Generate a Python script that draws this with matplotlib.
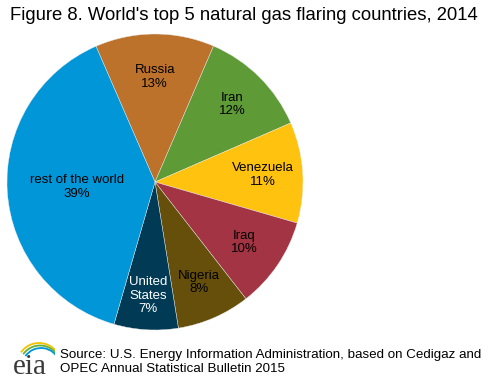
import numpy as np
import matplotlib.pyplot as plt
from matplotlib.patches import Arc

# shares of flared gas, 2014 (percent)
countries = ['Russia', 'Iran', 'Venezuela', 'Iraq', 'Nigeria', 'United\nStates', 'rest of the world']
shares = [13, 12, 11, 10, 8, 7, 39]
colors = ['#BD722C', '#5E9A35', '#FFC20E', '#A33443', '#664F0A', '#003A54', '#0096D7']
text_colors = ['black', 'black', 'black', 'black', 'black', 'white', 'black']
label_radius = [0.71, 0.74, 0.73, 0.73, 0.74, 0.77, 0.53]

plt.rcParams['font.family'] = ['Liberation Sans', 'DejaVu Sans']

fig = plt.figure(figsize=(4.92, 3.79), dpi=100)
ax = fig.add_axes([7 / 492, 1 - 330 / 379, 296 / 492, 296 / 379])

wedges, _ = ax.pie(shares, colors=colors, startangle=113.5, counterclock=False,
                   radius=1, wedgeprops=dict(edgecolor='#e8e8e8', linewidth=0.3))
ax.set_xlim(-1, 1)
ax.set_ylim(-1, 1)
ax.set_aspect('equal')
ax.axis('off')

# labels at the middle angle of each wedge
for w, name, val, tc, r in zip(wedges, countries, shares, text_colors, label_radius):
    mid = np.deg2rad((w.theta1 + w.theta2) / 2)
    ax.text(r * np.cos(mid), r * np.sin(mid), f'{name}\n{val}%', ha='center', va='center',
            fontsize=9.5, color=tc, linespacing=1.15)

fig.text(10 / 492, 1 - 15 / 379, "Figure 8. World's top 5 natural gas flaring countries, 2014",
         fontsize=13.3, ha='left', va='center')

fig.text(60 / 492, 1 - 362 / 379,
         'Source: U.S. Energy Information Administration, based on Cedigaz and\nOPEC Annual Statistical Bulletin 2015',
         fontsize=9.6, ha='left', va='center', linespacing=1.2)

# eia logo
lax = fig.add_axes([10 / 492, 1 - 378 / 379, 45 / 492, 42 / 379])
lax.set_xlim(0, 45)
lax.set_ylim(0, 42)
lax.axis('off')
lax.text(20, 11, 'eia', fontfamily='Liberation Serif', fontsize=21, color='#3a3a3a',
         ha='center', va='center')
for (cx, cy, wd, col) in [(29, 13, 44, '#F2C200'), (30, 12, 41, '#6AAE3A'), (31, 11, 38, '#0096D7')]:
    lax.add_patch(Arc((cx, cy), wd, wd, theta1=20, theta2=145, color=col, linewidth=1.3))

fig.savefig('out.png', dpi=100)
